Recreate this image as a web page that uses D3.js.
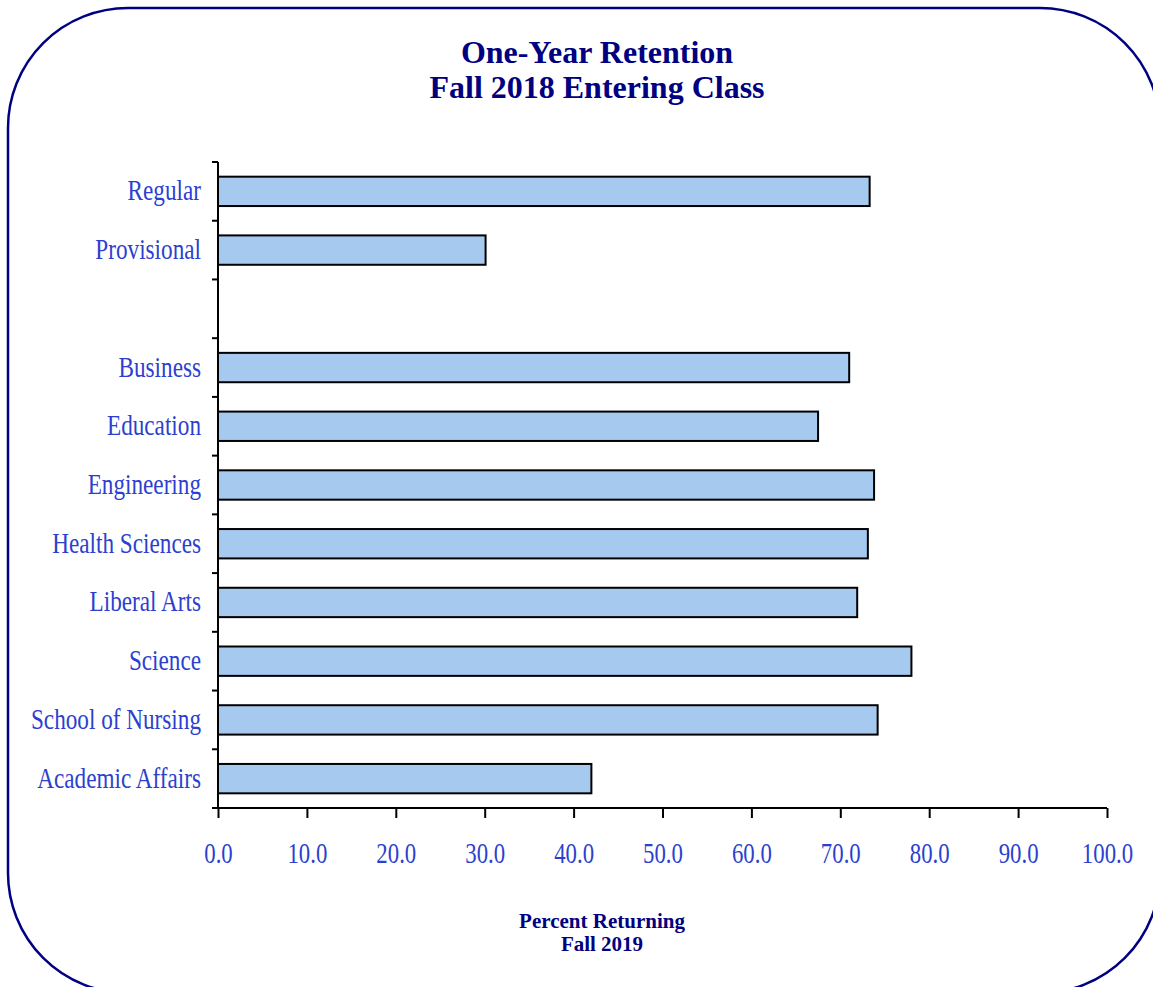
<!DOCTYPE html>
<html>
<head>
<meta charset="utf-8">
<script src="https://cdn.jsdelivr.net/npm/d3@7"></script>
<style>
  body { margin: 0; background: #fff; }
  svg { display: block; }
</style>
</head>
<body>
<script>
// chart data
const categories = ["Regular", "Provisional", "", "Business", "Education", "Engineering",
    "Health Sciences", "Liberal Arts", "Science", "School of Nursing", "Academic Affairs"];
const values = [73.3, 30.1, null, 71.0, 67.5, 73.8, 73.1, 71.9, 78.0, 74.2, 42.0];
const xTicks = [0, 10, 20, 30, 40, 50, 60, 70, 80, 90, 100];
const titleLines = ["One-Year Retention", "Fall 2018 Entering Class"];
const xTitleLines = ["Percent Returning", "Fall 2019"];

const width = 1153, height = 987;
const margin = { top: 162, right: 46, bottom: 179, left: 218 };
const serif = "Liberation Serif, Times New Roman, serif";
const labelBlue = "#2c3fcf";

const svg = d3.select("body").append("svg")
    .attr("width", width)
    .attr("height", height);

// rounded frame
svg.append("rect")
    .attr("x", 8).attr("y", 8)
    .attr("width", 1152).attr("height", 985)
    .attr("rx", 120).attr("ry", 120)
    .attr("fill", "none")
    .attr("stroke", "#000080")
    .attr("stroke-width", 2.5);

const x = d3.scaleLinear()
    .domain([0, 100])
    .range([margin.left, width - margin.right]);

const y = d3.scaleBand()
    .domain(categories.map((d, i) => i))
    .range([margin.top, height - margin.bottom])
    .paddingInner(0.5)
    .paddingOuter(0.25);

const rows = categories.map((c, i) => ({ key: i, label: c, value: values[i] }));

// bars
svg.selectAll(".bar")
    .data(rows.filter(d => d.value != null))
    .enter().append("rect")
    .attr("class", "bar")
    .attr("x", x(0))
    .attr("y", d => y(d.key))
    .attr("width", d => x(d.value) - x(0))
    .attr("height", y.bandwidth())
    .attr("fill", "#a6c9ef")
    .attr("stroke", "#000")
    .attr("stroke-width", 2);

// y axis: line + ticks at band boundaries
const yBottom = height - margin.bottom;
svg.append("line")
    .attr("x1", x(0)).attr("x2", x(0))
    .attr("y1", margin.top).attr("y2", yBottom)
    .attr("stroke", "#000").attr("stroke-width", 2);

const step = y.step();
const bounds = d3.range(categories.length + 1).map(i => margin.top + i * step);
svg.selectAll(".ytick")
    .data(bounds)
    .enter().append("line")
    .attr("x1", x(0) - 6).attr("x2", x(0))
    .attr("y1", d => d).attr("y2", d => d)
    .attr("stroke", "#000").attr("stroke-width", 2);

// labels are drawn narrow, like the condensed Times of the original
svg.selectAll(".ylabel")
    .data(rows)
    .enter().append("text")
    .attr("transform", d => `translate(${x(0) - 17},${y(d.key) + y.bandwidth() / 2 + 9}) scale(0.8,1)`)
    .attr("text-anchor", "end")
    .attr("font-family", serif)
    .attr("font-size", 29)
    .attr("fill", labelBlue)
    .text(d => d.label);

// x axis
const xAxis = d3.axisBottom(x)
    .tickValues(xTicks)
    .tickSize(10)
    .tickPadding(0)
    .tickFormat(d3.format(".1f"));

const gx = svg.append("g")
    .attr("transform", `translate(0,${yBottom})`)
    .call(xAxis);
gx.select(".domain").attr("stroke", "#000").attr("stroke-width", 2)
    .attr("d", `M${x(0)},0H${x(100)}`);
gx.selectAll(".tick line").attr("stroke", "#000").attr("stroke-width", 2);
gx.selectAll(".tick text")
    .attr("y", 0)
    .attr("dy", null)
    .attr("transform", "translate(0,55) scale(0.76,1)")
    .attr("font-family", serif)
    .attr("font-size", 30)
    .attr("fill", labelBlue);

// titles
svg.append("text")
    .attr("text-anchor", "middle")
    .attr("font-family", serif)
    .attr("font-weight", "bold")
    .attr("font-size", 32)
    .attr("fill", "#000080")
    .selectAll("tspan")
    .data(titleLines)
    .enter().append("tspan")
    .attr("x", 597)
    .attr("y", (d, i) => 63 + i * 35)
    .text(d => d);

svg.append("text")
    .attr("text-anchor", "middle")
    .attr("font-family", serif)
    .attr("font-weight", "bold")
    .attr("font-size", 21)
    .attr("fill", "#000080")
    .selectAll("tspan")
    .data(xTitleLines)
    .enter().append("tspan")
    .attr("x", 602)
    .attr("y", (d, i) => 928 + i * 23)
    .text(d => d);
</script>
</body>
</html>
